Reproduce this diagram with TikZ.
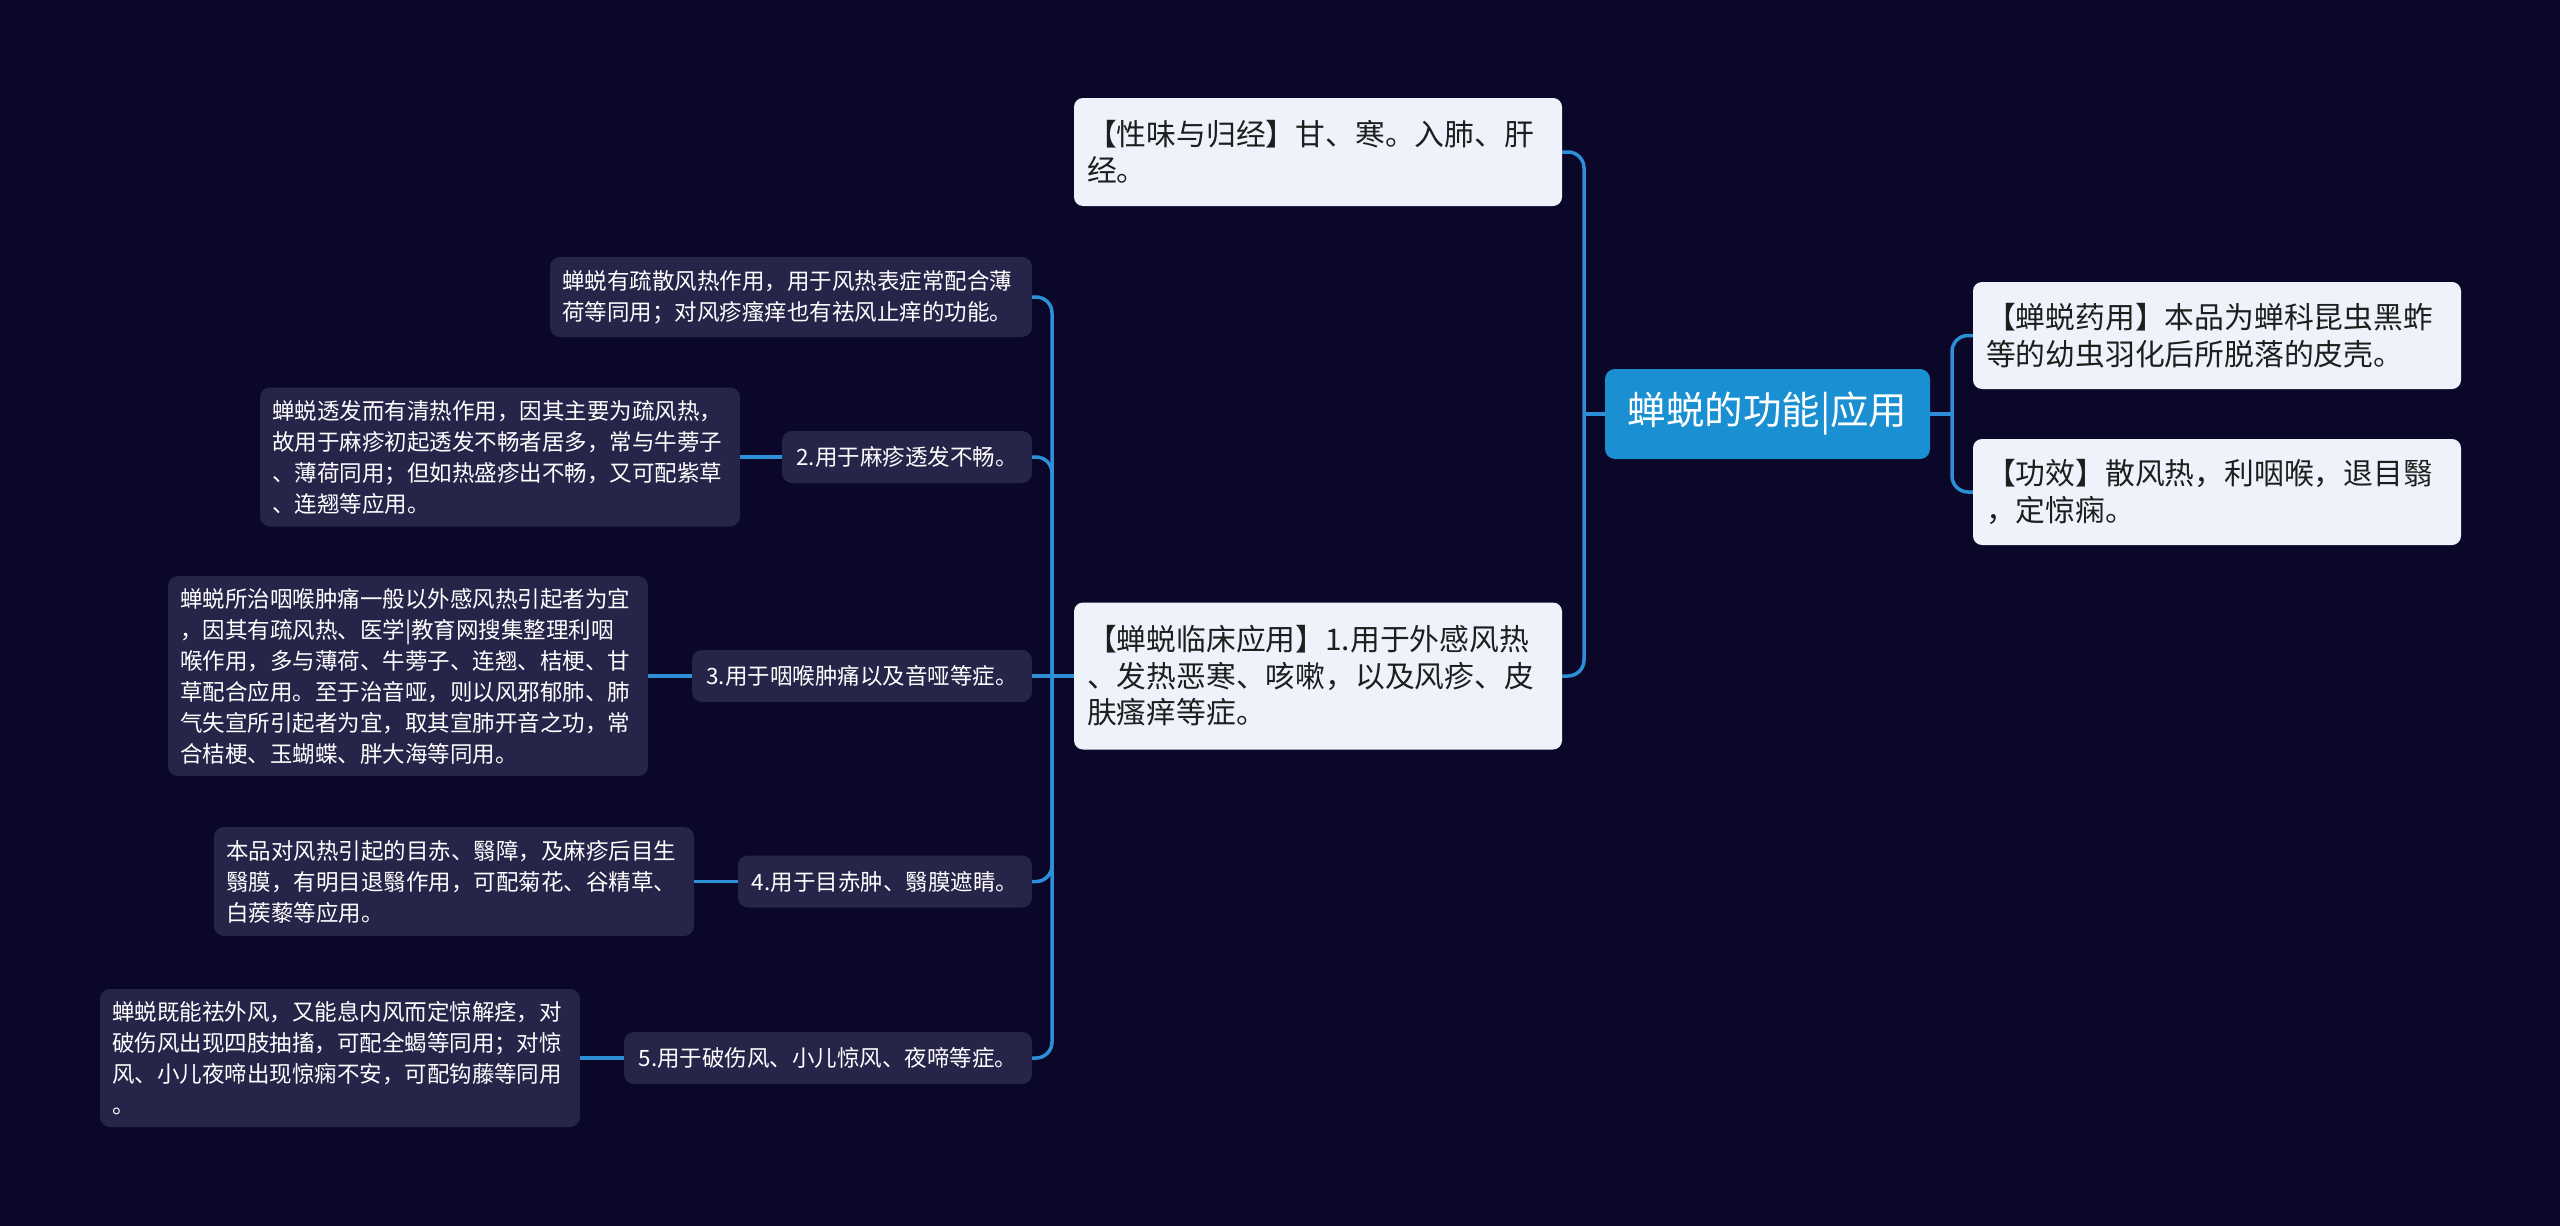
\documentclass[tikz,border=0pt]{standalone}
\usepackage{fontspec}
\newfontfamily\cjk{Noto Sans CJK SC}
\usepackage{tikz}
\usetikzlibrary{positioning}
\definecolor{bgnavy}{HTML}{0B0729}
\definecolor{linkblue}{HTML}{2C8FD8}
\definecolor{rootblue}{HTML}{1A90D3}
\definecolor{paleblue}{HTML}{EEF3FB}
\definecolor{darkcard}{HTML}{262449}
\definecolor{inkdark}{HTML}{1E1E1E}
\tikzset{
	rootbox/.style={fill=rootblue, rounded corners=10pt, text=white,
		font=\cjk\fontsize{38.5}{44}\selectfont, inner sep=0pt,
		minimum width=325pt, minimum height=90pt}
}
\tikzset{
	lightbox/.style={fill=paleblue, rounded corners=9pt, text=inkdark,
		font=\cjk\fontsize{29.8}{36.5}\selectfont, align=left,
		inner xsep=13pt, inner ysep=4pt, text width=462pt, minimum height=#1}
}
\tikzset{
	card/.style={fill=darkcard, rounded corners=10pt, text=white,
		font=\cjk\fontsize{22.5}{31}\selectfont, inner xsep=12pt, inner ysep=4pt},
	notecard/.style={card, align=left, text width=456pt, minimum height=#1},
	stepcard/.style={card, minimum width=#1, minimum height=52pt},
	link/.style={draw=linkblue, line width=3.5pt, rounded corners=16pt}
}

\begin{document}
\begin{tikzpicture}[x=1pt, y=-1pt]
      \useasboundingbox (0,0) rectangle (2560,1226);
      \fill[bgnavy] (0,0) rectangle (2560,1226);
      % centre topic
      \node[rootbox] (root) at (1767.5,414) {蝉蜕的功能|应用};
      \coordinate (rs) at (1952,414);
      \coordinate (ls) at (1584,414);
      % right side
      \node[lightbox=107pt] (yaoyong) at (2217,335.5) {【蝉蜕药用】本品为蝉科昆虫黑蚱\\等的幼虫羽化后所脱落的皮壳。};
      \node[lightbox=106pt] (gongxiao) at (2217,492) {【功效】散风热，利咽喉，退目翳\\，定惊痫。};
      % left side
      \node[lightbox=108pt] (xingwei) at (1318,152) {【性味与归经】甘、寒。入肺、肝\\经。};
      \node[lightbox=147pt] (linchuang) at (1318,676) {【蝉蜕临床应用】1.用于外感风热\\、发热恶寒、咳嗽，以及风疹、皮\\肤瘙痒等症。};
      \coordinate (ms) at (1052,676);
      % clinical uses
      \node[notecard=80pt, text width=458pt] (fengre) at (791,297) {蝉蜕有疏散风热作用，用于风热表症常配合薄\\荷等同用；对风疹瘙痒也有祛风止痒的功能。};
      \node[stepcard=250pt] (mazhen) at (907,457) {2.用于麻疹透发不畅。};
      \node[notecard=139pt] (mazhenNote) at (500,457) {蝉蜕透发而有清热作用，因其主要为疏风热，\\故用于麻疹初起透发不畅者居多，常与牛蒡子\\、薄荷同用；但如热盛疹出不畅，又可配紫草\\、连翘等应用。};
      \node[stepcard=340pt] (yanhou) at (862,676) {3.用于咽喉肿痛以及音哑等症。};
      \node[notecard=200pt] (yanhouNote) at (408,676) {蝉蜕所治咽喉肿痛一般以外感风热引起者为宜\\，因其有疏风热、医学|教育网搜集整理利咽\\喉作用，多与薄荷、牛蒡子、连翘、桔梗、甘\\草配合应用。至于治音哑，则以风邪郁肺、肺\\气失宣所引起者为宜，取其宣肺开音之功，常\\合桔梗、玉蝴蝶、胖大海等同用。};
      \node[stepcard=294pt] (muchi) at (885,881.5) {4.用于目赤肿、翳膜遮睛。};
      \node[notecard=109pt] (muchiNote) at (454,881.5) {本品对风热引起的目赤、翳障，及麻疹后目生\\翳膜，有明目退翳作用，可配菊花、谷精草、\\白蒺藜等应用。};
      \node[stepcard=408pt] (poshang) at (828,1058) {5.用于破伤风、小儿惊风、夜啼等症。};
      \node[notecard=138pt] (poshangNote) at (340,1058) {蝉蜕既能祛外风，又能息内风而定惊解痉，对\\破伤风出现四肢抽搐，可配全蝎等同用；对惊\\风、小儿夜啼出现惊痫不安，可配钩藤等同用\\。};
      % connectors
      \draw[link] (root.east) -- (rs);
      \draw[link] (rs) |- (yaoyong.west);
      \draw[link] (rs) |- (gongxiao.west);
      \draw[link] (root.west) -- (ls);
      \draw[link] (ls) |- (xingwei.east);
      \draw[link] (ls) |- (linchuang.east);
      \draw[link] (linchuang.west) -- (ms);
      \draw[link] (ms) |- (fengre.east);
      \draw[link] (ms) |- (mazhen.east);
      \draw[link] (ms) -- (yanhou.east);
      \draw[link] (ms) |- (muchi.east);
      \draw[link] (ms) |- (poshang.east);
      \draw[link] (mazhen.west) -- (mazhenNote.east);
      \draw[link] (yanhou.west) -- (yanhouNote.east);
      \draw[link] (muchi.west) -- (muchiNote.east);
      \draw[link] (poshang.west) -- (poshangNote.east);
\end{tikzpicture}
\end{document}
